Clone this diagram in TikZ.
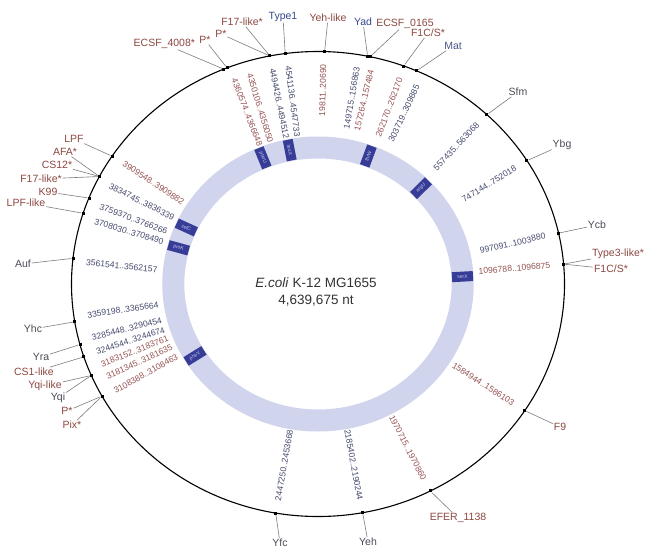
\documentclass[tikz,border=0pt]{standalone}
\usepackage{fontspec}
\setmainfont{Liberation Sans}
\definecolor{kbrown}{RGB}{140,72,64}
\definecolor{kblue}{RGB}{55,70,140}
\definecolor{kgray}{RGB}{75,75,88}
\definecolor{nred}{RGB}{150,82,82}
\definecolor{ndark}{RGB}{70,75,110}
\definecolor{ringc}{RGB}{208,212,236}
\definecolor{tblue}{RGB}{55,60,150}
\definecolor{tlight}{RGB}{195,200,238}
\definecolor{leadc}{RGB}{125,125,125}
% point on the map: position in kb, radius
\newcommand{\gpos}[2]{({318+1.06*(#2)*sin((#1)/4639.675*360)},{284-(#2)*cos((#1)/4639.675*360)})}

\begin{document}
\begin{tikzpicture}[x=1pt,y=-1pt,
  lab/.style={font=\fontsize{10.5}{12}\selectfont,inner sep=0.8pt},
  num/.style={font=\fontsize{8.6}{10}\selectfont,inner sep=0pt},
  numR/.style={num,anchor=east,rotate={90-(#1)/4639.675*360}},
  numL/.style={num,anchor=west,rotate={-90-(#1)/4639.675*360}},
  tick/.style={fill=black,minimum size=3pt,inner sep=0pt},
  lead/.style={draw=leadc,line width=0.6pt},
  trna/.style={fill=tblue,text=tlight,font=\fontsize{5}{5}\selectfont,minimum width=21pt,minimum height=10pt,inner sep=0pt},
  trR/.style={trna,rotate={90-(#1)/4639.675*360}},
  trL/.style={trna,rotate={-90-(#1)/4639.675*360}}]
\useasboundingbox[fill=white] (0,0) rectangle (645,549);

% rings
\draw[ringc,line width=22pt] (318,284) ellipse [x radius=144.7pt,y radius=136.5pt];
\draw[line width=1.1pt] (318,284) ellipse [x radius=246.5pt,y radius=232.5pt];
\node[align=center,font=\fontsize{13.5}{17}\selectfont,text=black!80] (title) at (316,292) {\textit{E.coli} K-12 MG1655\\4,639,675 nt};

% tRNA sites
\node[trL=4351] (pheU) at \gpos{4351}{136.5} {pheU};
\node[trL=4494.4] (leuX) at \gpos{4494.4}{136.5} {leuX};
\node[trR=262.2] (thrW) at \gpos{262.2}{136.5} {thrW};
\node[trR=585] (argU) at \gpos{585}{136.5} {argU};
\node[trR=1120] (serX) at \gpos{1120}{136.5} {serX};
\node[trL=3070] (pheV) at \gpos{3070}{136.5} {pheV};
\node[trL=3678] (proK) at \gpos{3678}{136.5} {proK};
\node[trL=3795] (selC) at \gpos{3795}{136.5} {selC};

% ticks on the chromosome
\node[tick] (t4350) at \gpos{4350.106}{232.5} {};
\node[tick] (t4360) at \gpos{4360.574}{232.5} {};
\node[tick] (t4494) at \gpos{4494.426}{232.5} {};
\node[tick] (t4541) at \gpos{4541.136}{232.5} {};
\node[tick] (t19) at \gpos{19.811}{232.5} {};
\node[tick] (t149) at \gpos{149.715}{232.5} {};
\node[tick] (t157) at \gpos{157.264}{232.5} {};
\node[tick] (t262) at \gpos{262.170}{232.5} {};
\node[tick] (t303) at \gpos{303.719}{232.5} {};
\node[tick] (t557) at \gpos{557.435}{232.5} {};
\node[tick] (t747) at \gpos{747.144}{232.5} {};
\node[tick] (t997) at \gpos{997.091}{232.5} {};
\node[tick] (t1096) at \gpos{1096.788}{232.5} {};
\node[tick] (t1584) at \gpos{1584.944}{232.5} {};
\node[tick] (t1970) at \gpos{1970.715}{232.5} {};
\node[tick] (t2185) at \gpos{2185.402}{232.5} {};
\node[tick] (t2447) at \gpos{2447.250}{232.5} {};
\node[tick] (t3108) at \gpos{3108.388}{232.5} {};
\node[tick] (t3181) at \gpos{3181.345}{232.5} {};
\node[tick] (t3244) at \gpos{3244.544}{232.5} {};
\node[tick] (t3285) at \gpos{3285.448}{232.5} {};
\node[tick] (t3359) at \gpos{3359.198}{232.5} {};
\node[tick] (t3561) at \gpos{3561.541}{232.5} {};
\node[tick] (t3708) at \gpos{3708.030}{232.5} {};
\node[tick] (t3759) at \gpos{3759.370}{232.5} {};
\node[tick] (t3834) at \gpos{3834.745}{232.5} {};
\node[tick] (t3909) at \gpos{3909.548}{232.5} {};

% coordinates
\node[numL=4368,text=nred] (n4360) at \gpos{4368}{220} {4360574..4366648};
\node[numL=4420,text=nred] (n4350) at \gpos{4420}{220} {4350106..4356050};
\node[numL=4494.4,text=ndark] (n4494) at \gpos{4494.4}{220} {4494426..4494512};
\node[numL=4545,text=ndark] (n4541) at \gpos{4545}{220} {4541136..4547733};
\node[numR=17,text=nred] (n19) at \gpos{17}{220} {19811..20690};
\node[numR=124,text=ndark] (n149) at \gpos{124}{220} {149715..156863};
\node[numR=170,text=nred] (n157) at \gpos{170}{220} {157264..157484};
\node[numR=266,text=nred] (n262) at \gpos{266}{220} {262170..262170};
\node[numR=325,text=ndark] (n303) at \gpos{325}{220} {303719..309885};
\node[numR=557.4,text=ndark] (n557) at \gpos{557.4}{220} {557435..563068};
\node[numR=747.1,text=ndark] (n747) at \gpos{747.1}{220} {747144..752018};
\node[numR=997.1,text=ndark] (n997) at \gpos{997.1}{220} {997091..1003880};
\node[numR=1096.8,text=nred] (n1096) at \gpos{1096.8}{220} {1096788..1096875};
\node[numR=1584.9,text=nred] (n1584) at \gpos{1584.9}{220} {1584944..1586103};
\node[numR=1970.7,text=nred] (n1970) at \gpos{1970.7}{220} {1970715..1970860};
\node[numR=2185.4,text=ndark] (n2185) at \gpos{2185.4}{220} {2185402..2190244};
\node[numL=2447.3,text=ndark] (n2447) at \gpos{2447.3}{220} {2447250..2453668};
\node[numL=3104,text=nred] (n3108) at \gpos{3104}{220} {3108388..3108463};
\node[numL=3157,text=nred] (n3181) at \gpos{3157}{220} {3181345..3181635};
\node[numL=3203,text=nred] (n3183) at \gpos{3203}{220} {3183152..3183761};
\node[numL=3248,text=ndark] (n3244) at \gpos{3248}{220} {3244544..3244674};
\node[numL=3298,text=ndark] (n3285) at \gpos{3298}{220} {3285448..3290454};
\node[numL=3375,text=ndark] (n3359) at \gpos{3375}{220} {3359198..3365664};
\node[numL=3552,text=ndark] (n3561) at \gpos{3552}{220} {3561541..3562157};
\node[numL=3693,text=ndark] (n3708) at \gpos{3693}{220} {3708030..3708490};
\node[numL=3746,text=ndark] (n3759) at \gpos{3746}{220} {3759370..3766266};
\node[numL=3822,text=ndark] (n3834) at \gpos{3822}{220} {3834745..3836339};
\node[numL=3910,text=nred] (n3909) at \gpos{3910}{220} {3909548..3909882};

% names, top
\node[lab,text=kbrown,anchor=east] (lECSFa) at (196,44) {ECSF\_4008*};
\node[lab,text=kbrown] (lPa) at (205,40) {P*};
\node[lab,text=kbrown] (lPb) at (221,34) {P*};
\node[lab,text=kbrown] (lFa) at (242,22) {F17-like*};
\node[lab,text=kblue] (lType) at (283,17) {Type1};
\node[lab,text=kbrown] (lYehl) at (328,18) {Yeh-like};
\node[lab,text=kblue] (lYad) at (363,22) {Yad};
\node[lab,text=kbrown] (lECSFb) at (405,24) {ECSF\_0165};
\node[lab,text=kbrown] (lF1Ca) at (428,33) {F1C/S*};
\node[lab,text=kblue!70!gray] (lMat) at (453,46) {Mat};
\draw[lead] (lECSFa) -- (t4350);
\draw[lead] (lPa) -- (t4360);
\draw[lead] (lPb) -- (t4494);
\draw[lead] (lFa) -- (t4494);
\draw[lead] (lType) -- (t4541);
\draw[lead] (lYehl) -- (t19);
\draw[lead] (lYad) -- (t149);
\draw[lead] (lECSFb) -- (t157);
\draw[lead] (lF1Ca) -- (t262);
\draw[lead] (lMat) -- (t303);

% names, right and bottom
\node[lab,text=kgray] (lSfm) at (518,92) {Sfm};
\node[lab,text=kgray] (lYbg) at (562,145) {Ybg};
\node[lab,text=kgray] (lYcb) at (597,225) {Ycb};
\node[lab,text=kbrown,anchor=east] (lType3) at (645,254) {Type3-like*};
\node[lab,text=kbrown,anchor=west] (lF1Cb) at (593,269) {F1C/S*};
\node[lab,text=kbrown] (lF9) at (560,427) {F9};
\node[lab,text=kbrown] (lEFER) at (458,518) {EFER\_1138};
\node[lab,text=kgray] (lYeh) at (368,542) {Yeh};
\node[lab,text=kgray] (lYfc) at (280,543) {Yfc};
\draw[lead] (lSfm) -- (t557);
\draw[lead] (lYbg) -- (t747);
\draw[lead] (lYcb) -- (t997);
\draw[lead] (lType3) -- (t1096);
\draw[lead] (lF1Cb) -- (t1096);
\draw[lead] (lF9) -- (t1584);
\draw[lead] (lEFER) -- (t1970);
\draw[lead] (lYeh) -- (t2185);
\draw[lead] (lYfc) -- (t2447);

% names, left
\node[lab,text=kbrown] (lLPF) at (74,139) {LPF};
\node[lab,text=kbrown] (lAFA) at (65,152) {AFA*};
\node[lab,text=kbrown] (lCS12) at (57,165) {CS12*};
\node[lab,text=kbrown] (lFb) at (41,179) {F17-like*};
\node[lab,text=kbrown] (lK99) at (48,192) {K99};
\node[lab,text=kbrown] (lLPFl) at (26,203) {LPF-like};
\node[lab,text=kgray] (lAuf) at (23,264) {Auf};
\node[lab,text=kgray] (lYhc) at (33,329) {Yhc};
\node[lab,text=kgray] (lYra) at (41,357) {Yra};
\node[lab,text=kbrown] (lCS1) at (34,372) {CS1-like};
\node[lab,text=kbrown] (lYqil) at (45,386) {Yqi-like};
\node[lab,text=kgray] (lYqi) at (58,398) {Yqi};
\node[lab,text=kbrown] (lPc) at (67,411) {P*};
\node[lab,text=kbrown] (lPix) at (72,425) {Pix*};
\draw[lead] (lLPF) -- (t3909);
\draw[lead] (lAFA) -- (t3834);
\draw[lead] (lCS12) -- (t3834);
\draw[lead] (lFb) -- (t3834);
\draw[lead] (lK99) -- (t3759);
\draw[lead] (lLPFl) -- (t3708);
\draw[lead] (lAuf) -- (t3561);
\draw[lead] (lYhc) -- (t3359);
\draw[lead] (lYra) -- (t3285);
\draw[lead] (lCS1) -- (t3244);
\draw[lead] (lYqil) -- (t3181);
\draw[lead] (lYqi) -- (t3181);
\draw[lead] (lPc) -- (t3108);
\draw[lead] (lPix) -- (t3108);
\end{tikzpicture}
\end{document}
